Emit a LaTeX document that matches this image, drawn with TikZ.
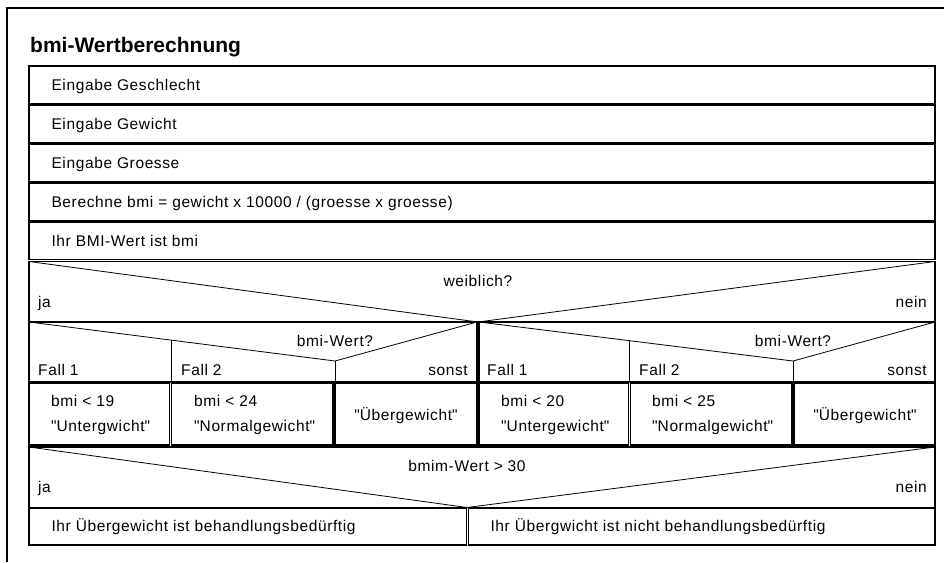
\documentclass[tikz,border=0pt]{standalone}
\usepackage{fontspec}
\setmainfont{Liberation Sans}
\newfontfamily\spaced{Liberation Sans}[LetterSpace=4]
\usepackage{tikz}
\tikzset{
  blk/.style={line width=1.1pt},
  hair/.style={line width=0.8pt},
  lbl/.style={inner sep=0pt, anchor=base west, font=\spaced\fontsize{15.5}{19}\selectfont},
  lblr/.style={lbl, anchor=base east},
  lblc/.style={lbl, anchor=base}
}

\begin{document}
\begin{tikzpicture}[x=1pt,y=-1pt]
				\useasboundingbox (0,0) rectangle (944,562);
				\draw [line width=1.3pt] (944,8) -- (7,8) -- (7,562);
				\node [inner sep=0pt, anchor=base west, font=\bfseries\fontsize{21}{24}\selectfont] (titel) at (30,52) {bmi-Wertberechnung};
				% Anweisungen
				\draw [blk] (29,66) rectangle (935,103.5) node [lbl] (geschlecht) at (51,90.3) {Eingabe Geschlecht};
				\draw [blk] (29,105) rectangle (935,142.5) node [lbl] (gewicht) at (51,129.3) {Eingabe Gewicht};
				\draw [blk] (29,144) rectangle (935,181.5) node [lbl] (groesse) at (51,168.3) {Eingabe Groesse};
				\draw [blk] (29,183) rectangle (935,220.5) node [lbl] (rechnung) at (51,207.3) {Berechne bmi = gewicht x 10000 / (groesse x groesse)};
				\draw [blk] (29,222) rectangle (935,259.5) node [lbl] (ausgabe) at (51,246.3) {Ihr BMI-Wert ist bmi};
				% Verzweigung weiblich?
				\draw [blk] (29,261.5) rectangle (935,322);
				\draw [hair] (29,261.5) -- (478,322) -- (935,261.5);
				\node [lblc] (weiblich) at (478,286) {weiblich?};
				\node [lbl] (jaoben) at (38,307) {ja};
				\node [lblr] (neinoben) at (927,307) {nein};
				% Fallauswahl links
				\draw [blk] (29,322) rectangle (477,382);
				\draw [hair] (29,322) -- (335,361) -- (477,322);
				\draw [hair] (171,339.6) -- (171,382);
				\draw [hair] (335,361) -- (335,382);
				\node [lblc] (wertlinks) at (335,346) {bmi-Wert?};
				\node [lbl] (falllinksa) at (38,375) {Fall 1};
				\node [lbl] (falllinksb) at (181,375) {Fall 2};
				\node [lblr] (sonstlinks) at (468,375) {sonst};
				\draw [blk] (29,383.5) rectangle (169.5,445);
				\draw [blk] (171.5,383.5) rectangle (333,445);
				\draw [blk] (335,383.5) rectangle (477,445);
				\node [lbl] (grenzela) at (51,406.5) {bmi < 19};
				\node [lbl] (textla) at (51,431.5) {\textquotedbl Untergwicht\textquotedbl};
				\node [lbl] (grenzelb) at (194,406.5) {bmi < 24};
				\node [lbl] (textlb) at (194,431.5) {\textquotedbl Normalgewicht\textquotedbl};
				\node [lblc] (textlc) at (406,420) {\textquotedbl Übergewicht\textquotedbl};
				% Fallauswahl rechts
				\draw [blk] (479,322) rectangle (935,382);
				\draw [hair] (479,322) -- (793,361) -- (935,322);
				\draw [hair] (629,340.6) -- (629,382);
				\draw [hair] (793,361) -- (793,382);
				\node [lblc] (wertrechts) at (793,346) {bmi-Wert?};
				\node [lbl] (fallrechtsa) at (487,375) {Fall 1};
				\node [lbl] (fallrechtsb) at (639,375) {Fall 2};
				\node [lblr] (sonstrechts) at (927,375) {sonst};
				\draw [blk] (479,383.5) rectangle (628.5,445);
				\draw [blk] (630.5,383.5) rectangle (792,445);
				\draw [blk] (794,383.5) rectangle (935,445);
				\node [lbl] (grenzera) at (501,406.5) {bmi < 20};
				\node [lbl] (textra) at (501,431.5) {\textquotedbl Untergewicht\textquotedbl};
				\node [lbl] (grenzerb) at (652,406.5) {bmi < 25};
				\node [lbl] (textrb) at (652,431.5) {\textquotedbl Normalgewicht\textquotedbl};
				\node [lblc] (textrc) at (865,420) {\textquotedbl Übergewicht\textquotedbl};
				% Verzweigung bmim-Wert > 30
				\draw [blk] (29,447) rectangle (935,507.5);
				\draw [hair] (29,447) -- (467,507.5) -- (935,447);
				\node [lblc] (schwelle) at (467,471.5) {bmim-Wert > 30};
				\node [lbl] (jaunten) at (38,492) {ja};
				\node [lblr] (neinunten) at (927,492) {nein};
				\draw [blk] (29,508) rectangle (466.5,545) node [lbl] (behandeln) at (51,531.5) {Ihr Übergewicht ist behandlungsbedürftig};
				\draw [blk] (468.5,508) rectangle (935,545) node [lbl] (nichtbehandeln) at (490,531.5) {Ihr Übergwicht ist nicht behandlungsbedürftig};
			\end{tikzpicture}
\end{document}
